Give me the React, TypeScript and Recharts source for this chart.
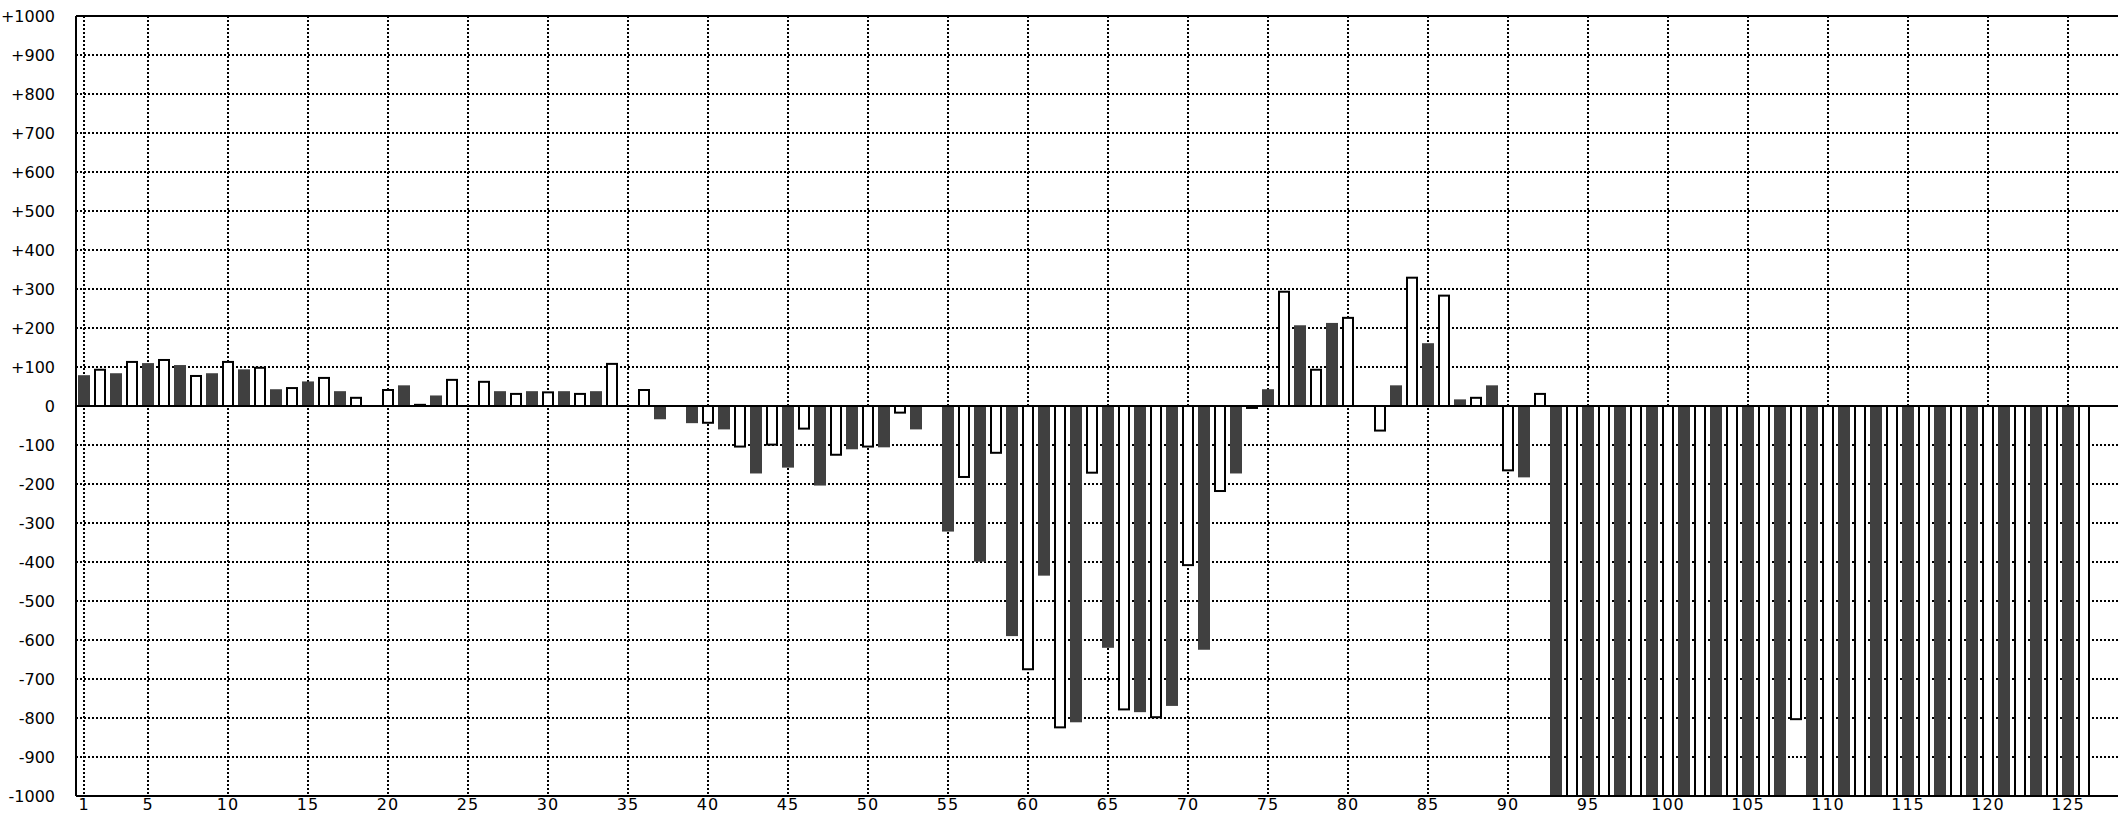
import { Bar, BarChart, CartesianGrid, ReferenceLine, XAxis, YAxis } from 'recharts';

// category numbers 1..128 (127/128 are empty, they only carry the plot past the right edge)
const categories: number[] = [
  1, 2, 3, 4, 5, 6, 7, 8, 9, 10, 11, 12, 13, 14, 15, 16, 17, 18, 19, 20,
  21, 22, 23, 24, 25, 26, 27, 28, 29, 30, 31, 32, 33, 34, 35, 36, 37, 38, 39, 40,
  41, 42, 43, 44, 45, 46, 47, 48, 49, 50, 51, 52, 53, 54, 55, 56, 57, 58, 59, 60,
  61, 62, 63, 64, 65, 66, 67, 68, 69, 70, 71, 72, 73, 74, 75, 76, 77, 78, 79, 80,
  81, 82, 83, 84, 85, 86, 87, 88, 89, 90, 91, 92, 93, 94, 95, 96, 97, 98, 99, 100,
  101, 102, 103, 104, 105, 106, 107, 108, 109, 110, 111, 112, 113, 114, 115, 116, 117, 118, 119, 120,
  121, 122, 123, 124, 125, 126, 127, 128,
];

const values: (number | null)[] = [
  79, 93, 84, 113, 110, 118, 105, 77, 84, 113, 94, 98, 43, 46, 63, 72, 38, 21, null, 41,
  53, 3, 27, 67, null, 62, 38, 31, 38, 35, 38, 31, 38, 108, null, 41, -34, null, -44, -43,
  -60, -104, -173, -99, -158, -58, -204, -125, -111, -104, -106, -17, -60, null, -322, -182, -399, -120, -590, -675,
  -435, -824, -811, -171, -620, -778, -785, -798, -769, -408, -625, -218, -173, -5, 43, 293, 207, 93, 213, 226,
  null, -63, 53, 329, 161, 283, 17, 21, 53, -165, -183, 31, -1000, -1000, -1000, -1000, -1000, -1000, -1000, -1000,
  -1000, -1000, -1000, -1000, -1000, -1000, -1000, -803, -1000, -1000, -1000, -1000, -1000, -1000, -1000, -1000, -1000, -1000, -1000, -1000,
  -1000, -1000, -1000, -1000, -1000, -1000, null, null,
];

const xTicks = [1, 5, 10, 15, 20, 25, 30, 35, 40, 45, 50, 55, 60, 65, 70, 75, 80, 85, 90, 95, 100, 105, 110, 115, 120, 125];
const yTicks = [
  -1000, -900, -800, -700, -600, -500, -400, -300, -200, -100, 0,
  100, 200, 300, 400, 500, 600, 700, 800, 900, 1000,
];

const data = categories.map((n, i) => ({ n, v: values[i] }));

const xTickFont = { fontFamily: 'DejaVu Sans', fontSize: 16, fill: '#000', letterSpacing: 1 };
const yTickFont = { fontFamily: 'DejaVu Sans', fontSize: 16, fill: '#000' };

function BarShape(props: any) {
  const { x, y, width, height, payload } = props;
  if (payload.v == null || !height) return <g />;
  const top = Math.min(y, y + height);
  const h = Math.abs(height);
  // odd categories are solid, even ones are outlined
  if (payload.n % 2 === 1) {
    return <rect x={x} y={top} width={width} height={h} fill="#404040" />;
  }
  return <rect x={x + 1} y={top} width={width - 2} height={h} fill="#fff" stroke="#000" strokeWidth={2} />;
}

export default function App() {
  return (
    <div
      style={{
        position: 'absolute',
        left: 0,
        top: 0,
        width: 2118,
        height: 818,
        overflow: 'hidden',
        background: '#fff',
      }}
    >
      <BarChart width={2124} height={818} data={data} margin={{ top: 16, right: 0, bottom: 0, left: 0 }} barSize={12}>
        <CartesianGrid stroke="#000" strokeWidth={2} strokeDasharray="2 2" />
        <XAxis
          dataKey="n"
          ticks={xTicks}
          interval={0}
          height={22}
          tickLine={false}
          tickSize={3}
          tickMargin={0}
          axisLine={{ stroke: '#000', strokeWidth: 2 }}
          tick={xTickFont}
        />
        <YAxis
          domain={[-1000, 1000]}
          ticks={yTicks}
          interval={0}
          width={76}
          tickLine={false}
          tickSize={14}
          tickMargin={7}
          axisLine={{ stroke: '#000', strokeWidth: 2 }}
          tick={yTickFont}
          tickFormatter={(v: number) => (v > 0 ? `+${v}` : `${v}`)}
        />
        <ReferenceLine y={1000} stroke="#000" strokeWidth={2} />
        <Bar dataKey="v" shape={BarShape} isAnimationActive={false} />
        <ReferenceLine y={0} stroke="#000" strokeWidth={2} />
      </BarChart>
    </div>
  );
}
